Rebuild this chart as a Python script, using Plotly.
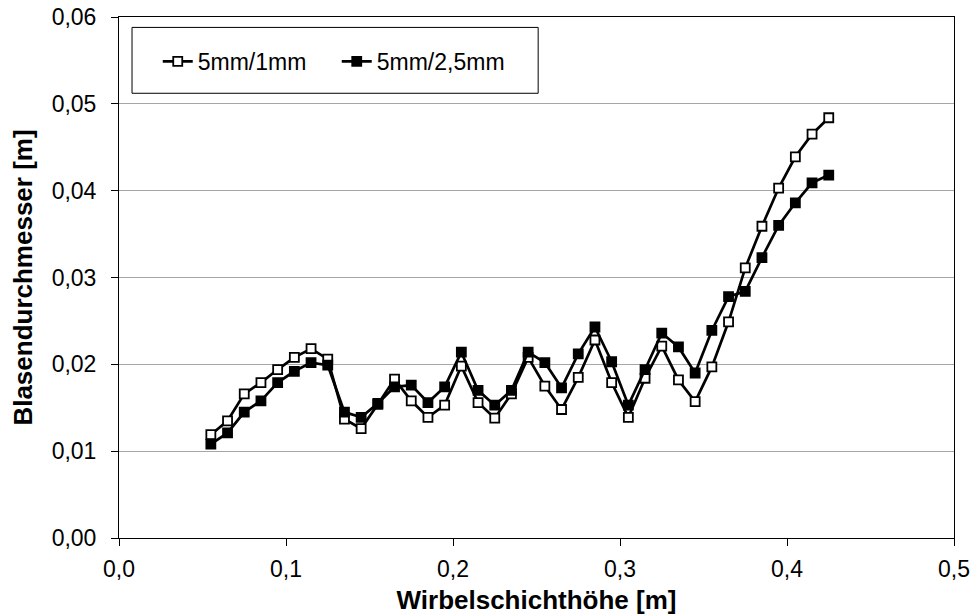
import plotly.graph_objects as go

# Wirbelschichthöhe [m]
hoehe = [0.055, 0.065, 0.075, 0.085, 0.095, 0.105, 0.115, 0.125, 0.135, 0.145,
         0.155, 0.165, 0.175, 0.185, 0.195, 0.205, 0.215, 0.225, 0.235, 0.245,
         0.255, 0.265, 0.275, 0.285, 0.295, 0.305, 0.315, 0.325, 0.335, 0.345,
         0.355, 0.365, 0.375, 0.385, 0.395, 0.405, 0.415, 0.425]

# Blasendurchmesser [m], 5mm/1mm
d_5_1 = [0.0119, 0.0135, 0.0166, 0.0179, 0.0194, 0.0208, 0.0218, 0.0206, 0.0137, 0.0126,
         0.0154, 0.0183, 0.0158, 0.0139, 0.0153, 0.0198, 0.0156, 0.0138, 0.0166, 0.0208,
         0.0175, 0.0148, 0.0185, 0.0228, 0.0179, 0.0139, 0.0184, 0.0221, 0.0182, 0.0157,
         0.0197, 0.0249, 0.0311, 0.0359, 0.0403, 0.0439, 0.0465, 0.0484]

# Blasendurchmesser [m], 5mm/2,5mm
d_5_25 = [0.0108, 0.0121, 0.0145, 0.0158, 0.0179, 0.0192, 0.0202, 0.0199, 0.0145, 0.0139,
          0.0155, 0.0174, 0.0176, 0.0156, 0.0174, 0.0214, 0.0170, 0.0153, 0.0170, 0.0214,
          0.0202, 0.0173, 0.0212, 0.0243, 0.0203, 0.0153, 0.0194, 0.0236, 0.0220, 0.0190,
          0.0239, 0.0278, 0.0284, 0.0323, 0.0360, 0.0386, 0.0409, 0.0418]

series_names = ["5mm/1mm", "5mm/2,5mm"]

x_ticks = [0.0, 0.1, 0.2, 0.3, 0.4, 0.5]
y_ticks = [0.00, 0.01, 0.02, 0.03, 0.04, 0.05, 0.06]

FONT = "Liberation Sans, Arial, sans-serif"

fig = go.Figure()
fig.add_trace(go.Scatter(
    x=hoehe, y=d_5_1, name=series_names[0], mode="lines+markers",
    line=dict(color="black", width=2.7),
    marker=dict(symbol="square", size=9, color="white", line=dict(color="black", width=1.8)),
))
fig.add_trace(go.Scatter(
    x=hoehe, y=d_5_25, name=series_names[1], mode="lines+markers",
    line=dict(color="black", width=2.7),
    marker=dict(symbol="square", size=9, color="black", line=dict(color="black", width=1.8)),
))

fig.update_layout(
    template="none",
    width=973, height=616,
    margin=dict(l=119, r=19, t=17, b=78, pad=0, autoexpand=False),
    paper_bgcolor="white", plot_bgcolor="white",
    separators=",.",
    font=dict(family=FONT, size=23, color="black"),
    showlegend=True,
    legend=dict(
        orientation="h", x=0.0464, y=0.9146, xanchor="left", yanchor="middle",
        bgcolor="rgba(0,0,0,0)", borderwidth=0,
        font=dict(family=FONT, size=23, color="black"),
        entrywidth=134, entrywidthmode="pixels",
    ),
    shapes=[dict(type="rect", xref="paper", yref="paper",
                 x0=0.0156, x1=0.502, y0=0.8536, y1=0.980,
                 line=dict(color="black", width=1), fillcolor="white", layer="below")],
)

fig.update_xaxes(
    range=[0, 0.5], tickvals=x_ticks, tickformat=".1f", automargin=False,
    showgrid=False, zeroline=False,
    showline=True, linecolor="black", linewidth=1, mirror=True,
    ticks="outside", ticklen=7, tickcolor="black", tickwidth=1,
    ticklabelstandoff=3, ticklabeloverflow="allow",
    tickfont=dict(family=FONT, size=23),
    title=dict(text="<b>Wirbelschichthöhe [m]</b>", font=dict(family=FONT, size=26), standoff=10),
)
fig.update_yaxes(
    range=[0, 0.06], tickvals=y_ticks, tickformat=".2f", automargin=False,
    showgrid=True, gridcolor="#a6a6a6", gridwidth=1, zeroline=False,
    showline=True, linecolor="black", linewidth=1, mirror=True,
    ticks="outside", ticklen=7, tickcolor="black", tickwidth=1,
    ticklabelstandoff=10, ticklabeloverflow="allow",
    tickfont=dict(family=FONT, size=23),
    title=dict(text="<b>Blasendurchmesser [m]</b>", font=dict(family=FONT, size=26), standoff=11),
)

fig.write_html("out.html", config={"displayModeBar": False},
               post_script="document.body.style.margin='0';")
